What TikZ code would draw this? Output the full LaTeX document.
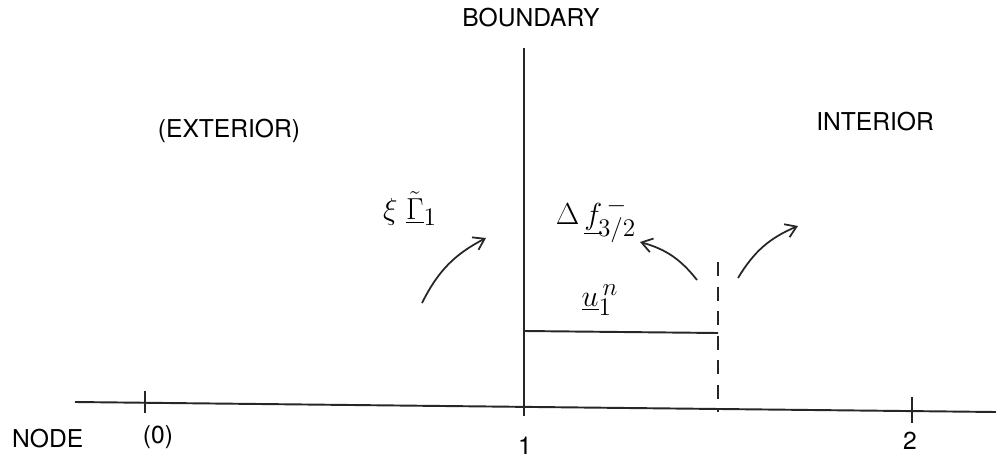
\documentclass[tikz,border=0pt]{standalone}
\usepackage{fontspec}
\setmainfont{TeX Gyre Heros}
\usetikzlibrary{arrows.meta}
\begin{document}
\begin{tikzpicture}[x=0.02cm,y=-0.02cm,
  ink/.style={line width=1.1pt,black!85},
  lbl/.style={font=\fontsize{14}{16}\selectfont,inner sep=1pt},
  mlbl/.style={font=\fontsize{19}{22}\selectfont,inner sep=1pt},
  curvearrow/.style={line width=1pt,black!85,-{Straight Barb[length=6pt,width=8pt]}}]
\useasboundingbox (0,0) rectangle (996,466);
% axis
\coordinate (axL) at (75,402);
\coordinate (axR) at (996,412);
\draw[ink] (axL) -- (axR);
% ticks
\coordinate (t0a) at (145,391); \coordinate (t0b) at (145,413);
\draw[ink] (t0a) -- (t0b);
\coordinate (t2a) at (912,397); \coordinate (t2b) at (912,423);
\draw[ink] (t2a) -- (t2b);
% boundary
\coordinate (bTop) at (524,48); \coordinate (bBot) at (524,416);
\draw[ink] (bTop) -- (bBot);
% dashed half-cell line
\coordinate (dTop) at (718,262); \coordinate (dBot) at (718,412);
\draw[ink,dash pattern=on 8pt off 6pt] (dTop) -- (dBot);
% u line
\coordinate (uL) at (524,331); \coordinate (uR) at (718,333);
\draw[ink] (uL) -- (uR);
% labels
\node[lbl] (boundary) at (531,18) {BOUNDARY};
\node[lbl] (ext) at (229,131) {(EXTERIOR)};
\node[lbl] (int) at (875,122) {INTERIOR};
\node[lbl,anchor=west] (nodelbl) at (10,439) {NODE};
\node[lbl] (n0) at (158,437) {(0)};
\node[lbl] (n1) at (525,446) {1};
\node[lbl] (n2) at (910,441) {2};
\node[mlbl] (xi) at (410,212) {$\xi\;\underline{\smash{\tilde{\Gamma}}}_{1}$};
\node[mlbl] (df) at (596,220) {$\Delta\,\underline{f}^{\,-}_{\!3/2}$};
\node[mlbl] (u) at (600,300) {$\underline{u}^{\,n}_{1}$};
% curved arrows
\coordinate (a1s) at (422,303); \coordinate (a1e) at (486,238);
\draw[curvearrow] (a1s) to[bend left=18] (a1e);
\coordinate (a2s) at (697,280); \coordinate (a2e) at (640,242);
\draw[curvearrow] (a2s) to[bend right=18] (a2e);
\coordinate (a3s) at (738,278); \coordinate (a3e) at (798,226);
\draw[curvearrow] (a3s) to[bend left=18] (a3e);
\end{tikzpicture}
\end{document}
